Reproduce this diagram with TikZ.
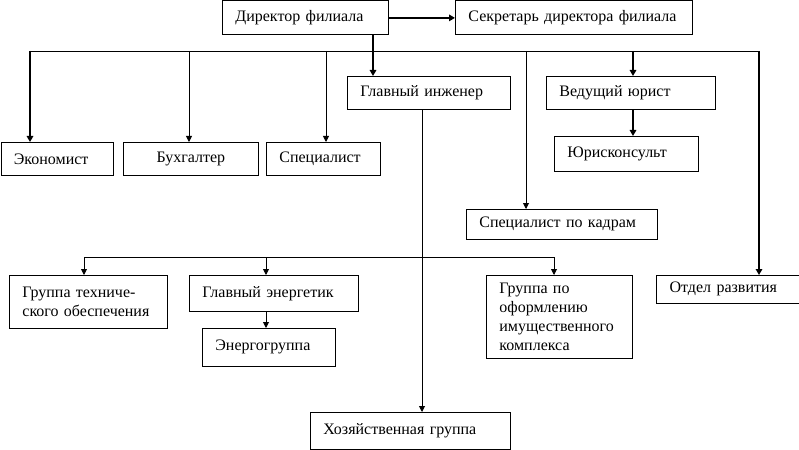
\documentclass[tikz,border=0pt]{standalone}
\usepackage{fontspec}
\setmainfont{Liberation Serif}
\usetikzlibrary{arrows.meta}
\tikzset{
  box/.style={draw, line width=0.8pt, anchor=north west, inner xsep=13pt, inner ysep=0pt,
    align=left, font=\fontsize{16}{19}\selectfont},
  arr/.style={line width=0.9pt, -{Triangle[width=6pt,length=6pt]}},
  tarr/.style={line width=1.5pt, -{Triangle[width=6.5pt,length=6pt]}},
  ln/.style={line width=0.9pt},
}
\begin{document}
\begin{tikzpicture}[x=1pt,y=-1pt]
\useasboundingbox (0,0) rectangle (799,449);
\node[box, minimum width=166pt, minimum height=34pt, text width=140pt] (dir) at (222,0.5) {Директор филиала};
\node[box, minimum width=237pt, minimum height=34pt, text width=211pt] (sec) at (455,0.5) {Секретарь директора филиала};
\node[box, minimum width=163pt, minimum height=33pt, text width=137pt] (gi) at (347,76) {Главный инженер};
\node[box, minimum width=169pt, minimum height=33pt, text width=143pt] (vy) at (546,76) {Ведущий юрист};
\node[box, minimum width=112pt, minimum height=33pt, text width=86pt] (eco) at (0.5,142) {Экономист};
\node[box, minimum width=135pt, minimum height=33pt, text width=109pt, align=center] (buh) at (123,142) {Бухгалтер};
\node[box, minimum width=114pt, minimum height=33pt, text width=88pt] (spec) at (266,142) {Специалист};
\node[box, minimum width=144pt, minimum height=35pt, text width=118pt] (yur) at (554,136) {Юрисконсульт};
\node[box, minimum width=191pt, minimum height=30pt, text width=165pt] (kadr) at (466,209) {Специалист по кадрам};
\node[box, minimum width=158pt, minimum height=53pt, text width=132pt] (gto) at (9,275) {Группа техниче-\\ского обеспечения};
\node[box, minimum width=169pt, minimum height=36pt, text width=143pt] (ge) at (189,275) {Главный энергетик};
\node[box, minimum width=133pt, minimum height=38pt, text width=107pt] (energ) at (202,328) {Энергогруппа};
\node[box, minimum width=146pt, minimum height=83pt, text width=120pt] (gio) at (486,275) {Группа по\\оформлению\\имущественного\\комплекса};
\node[box, minimum width=142.5pt, minimum height=28pt, text width=116pt] (otd) at (656,275) {Отдел развития};
\node[box, minimum width=200pt, minimum height=36.5pt, text width=174pt] (hoz) at (310,412) {Хозяйственная группа};
% coordinates
\coordinate (b1) at (30,51);
\coordinate (b2) at (189,51);
\coordinate (b3) at (326,51);
\coordinate (bd) at (373,51);
\coordinate (b4) at (526,51);
\coordinate (b5) at (633,51);
\coordinate (b6) at (759,51);
\coordinate (gx) at (422,257);
\coordinate (r1) at (84,257);
\coordinate (r2) at (266,257);
\coordinate (r3) at (554,257);
% connectors
\draw[tarr] (dir.east) -- (sec.west);
\draw[ln] (b1) -- (b6);
\draw[tarr] (dir.south -| bd) -- (gi.north -| bd);
\draw[tarr] (b1) -- (b1 |- eco.north);
\draw[arr] (b2) -- (b2 |- buh.north);
\draw[arr] (b3) -- (b3 |- spec.north);
\draw[arr] (b4) -- (b4 |- kadr.north);
\draw[tarr] (b5) -- (b5 |- vy.north);
\draw[tarr] (b6) -- (b6 |- otd.north);
\draw[tarr] (vy.south -| b5) -- (yur.north -| b5);
\draw[arr] (gi.south -| gx) -- (hoz.north -| gx);
\draw[ln] (r1) -- (r3);
\draw[arr] (r1) -- (r1 |- gto.north);
\draw[arr] (r2) -- (r2 |- ge.north);
\draw[arr] (r3) -- (r3 |- gio.north);
\draw[arr] (ge.south -| r2) -- (energ.north -| r2);
\end{tikzpicture}
\end{document}
